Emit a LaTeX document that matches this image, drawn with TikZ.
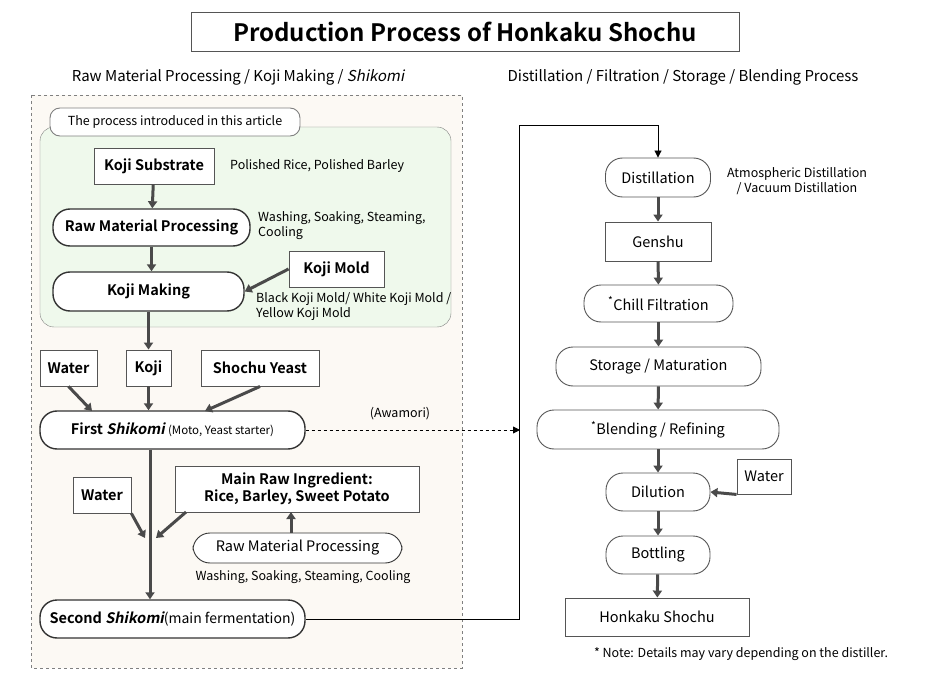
\documentclass[tikz,border=0pt]{standalone}
\usepackage{fontspec}
\IfFontExistsTF{Noto Sans CJK JP Bold}
 {\setmainfont{Noto Sans CJK JP}[BoldFont={Noto Sans CJK JP Bold},ItalicFont={Noto Sans CJK JP},ItalicFeatures={FakeSlant=0.2},BoldItalicFont={Noto Sans CJK JP Bold},BoldItalicFeatures={FakeSlant=0.2}]}
 {\setmainfont{Noto Sans}[BoldFont={Noto Sans},BoldFeatures={FakeBold=2.5}]}
\usetikzlibrary{arrows.meta}
\definecolor{ln}{HTML}{4A4A4A}
\definecolor{bd}{HTML}{555555}
\begin{document}
\begin{tikzpicture}[x=1pt,y=-1pt,
 box/.style={draw=bd,line width=0.9pt,fill=white,inner sep=0pt,font=\fontsize{14.5}{17}\selectfont},
 pill/.style={box,rounded corners=17pt,line width=1.4pt,draw=black!80},
 rpill/.style={box,rounded corners=17pt,line width=0.9pt},
 note/.style={font=\fontsize{12.5}{15}\selectfont,align=left,inner sep=0pt},
 arr/.style={draw=ln,line width=3pt,-{Triangle[width=9pt,length=7pt]}},
 thin/.style={draw=black,line width=0.9pt},
 bf/.style={font=\bfseries\fontsize{14.5}{17}\selectfont}]
\useasboundingbox (0,0) rectangle (930,682);
\fill[white] (0,0) rectangle (930,682);
% title
\node[box,minimum width=548,minimum height=39,font=\bfseries\fontsize{24}{28}\selectfont] (title) at (465,31.5) {Production Process of Honkaku Shochu};
\node[font=\fontsize{15}{18}\selectfont] (hl) at (238,77) {Raw Material Processing / Koji Making / \textit{Shikomi}};
\node[font=\fontsize{15}{18}\selectfont] (hr) at (683,77) {Distillation / Filtration / Storage / Blending Process};
% background areas
\draw[dashed,draw=gray,fill={rgb,255:red,252;green,249;blue,244}] (31,95) rectangle (462,668);
\draw[draw=gray,fill={rgb,255:red,239;green,249;blue,236},rounded corners=14pt] (40,127) rectangle (451,327);
\node[box,rounded corners=10pt,draw=gray,minimum width=250,minimum height=28,font=\fontsize{12.5}{15}\selectfont] (tab) at (175,122) {The process introduced in this article};
% left column
\node[box,bf,minimum width=120,minimum height=36] (ks) at (154,166) {Koji Substrate};
\node[note,anchor=west] (ksn) at (230,166) {Polished Rice, Polished Barley};
\node[pill,bf,minimum width=197,minimum height=37] (rmp) at (151.5,227.5) {Raw Material Processing};
\node[note,anchor=west] (rmpn) at (258,226) {Washing, Soaking, Steaming,\\Cooling};
\node[box,bf,minimum width=95,minimum height=36] (km) at (336.5,269) {Koji Mold};
\node[pill,bf,minimum width=191,minimum height=39] (kmk) at (148.5,291.5) {Koji Making};
\node[note,anchor=west] (kmkn) at (256,307) {Black Koji Mold/ White Koji Mold /\\Yellow Koji Mold};
\node[box,bf,minimum width=57,minimum height=36] (w1) at (68.5,368) {Water};
\node[box,bf,minimum width=45,minimum height=36] (koji) at (148.5,368) {Koji};
\node[box,bf,minimum width=118,minimum height=36] (sy) at (260,368) {Shochu Yeast};
\node[pill,minimum width=265,minimum height=38] (fs) at (172.5,430) {\textbf{First \textit{Shikomi}} {\fontsize{11.5}{14}\selectfont(Moto, Yeast starter)}};
\node[note] (aw) at (400,414) {(Awamori)};
\node[box,bf,minimum width=58,minimum height=36] (w2) at (102,495) {Water};
\node[box,bf,minimum width=244,minimum height=46,align=center] (mri) at (297,489) {Main Raw Ingredient:\\Rice, Barley, Sweet Potato};
\node[rpill,draw=black!80,minimum width=209,minimum height=30] (rmp2) at (297.5,548) {Raw Material Processing};
\node[note] (rmp2n) at (303,577) {Washing, Soaking, Steaming, Cooling};
\coordinate (m) at (150,540);
\node[pill,minimum width=265,minimum height=38] (ss) at (172.5,619) {\textbf{Second \textit{Shikomi}}{\fontsize{14}{16}\selectfont(main fermentation)}};
% right column
\node[rpill,minimum width=105,minimum height=39] (dist) at (658,177.5) {Distillation};
\node[note,align=center] (distn) at (797,181) {Atmospheric Distillation\\/ Vacuum Distillation};
\node[box,minimum width=106,minimum height=39] (gen) at (658,241.5) {Genshu};
\node[rpill,minimum width=149,minimum height=37] (cf) at (658.5,303.5) {\textsuperscript{*}Chill Filtration};
\node[rpill,minimum width=205,minimum height=39] (sm) at (658.5,366.5) {Storage / Maturation};
\node[rpill,minimum width=242,minimum height=39] (br) at (658,429.5) {\textsuperscript{*}Blending / Refining};
\node[rpill,minimum width=104,minimum height=38] (dil) at (658,492) {Dilution};
\node[box,minimum width=54,minimum height=35] (w3) at (764,476.5) {Water};
\node[rpill,minimum width=104,minimum height=38] (bot) at (658,555) {Bottling};
\node[box,minimum width=184,minimum height=38] (hs) at (657,617) {Honkaku Shochu};
\node[note] (nt) at (741,654) {* Note: Details may vary depending on the distiller.};
% arrows
\draw[arr] (ks) -- (rmp);
\draw[arr] (rmp) -- (rmp|-kmk.north);
\draw[arr] (km.west) -- (kmk.east);
\draw[arr] (kmk.south-|koji) -- (koji.north);
\draw[arr] (w1.south) -- (92,411);
\draw[arr] (koji) -- (koji|-fs.north);
\draw[arr] (sy.south) -- (205,411);
\draw[line width=3pt,draw=ln] (fs.south-|m) -- (m);
\draw[arr] (m) -- (m|-ss.north);
\draw[arr] (w2.south east) -- (145,538);
\draw[arr] (186,512) -- (156,538);
\draw[arr] (rmp2.north-|291,0) -- (291,512);
\draw[thin,dashed,-{Triangle[width=7pt,length=7pt]}] (fs.east) -- (520,430);
\draw[thin,-{Triangle[width=7pt,length=7pt]}] (ss.east) -- (519,619) -- (519,125) -- (658,125) -- (dist.north);
\draw[arr] (dist) -- (gen);
\draw[arr] (gen) -- (cf);
\draw[arr] (cf) -- (sm);
\draw[arr] (sm) -- (br);
\draw[arr] (br) -- (dil);
\draw[arr] (w3.south west) -- (dil.east);
\draw[arr] (dil) -- (bot);
\draw[arr] (bot) -- (hs);
\end{tikzpicture}
\end{document}
